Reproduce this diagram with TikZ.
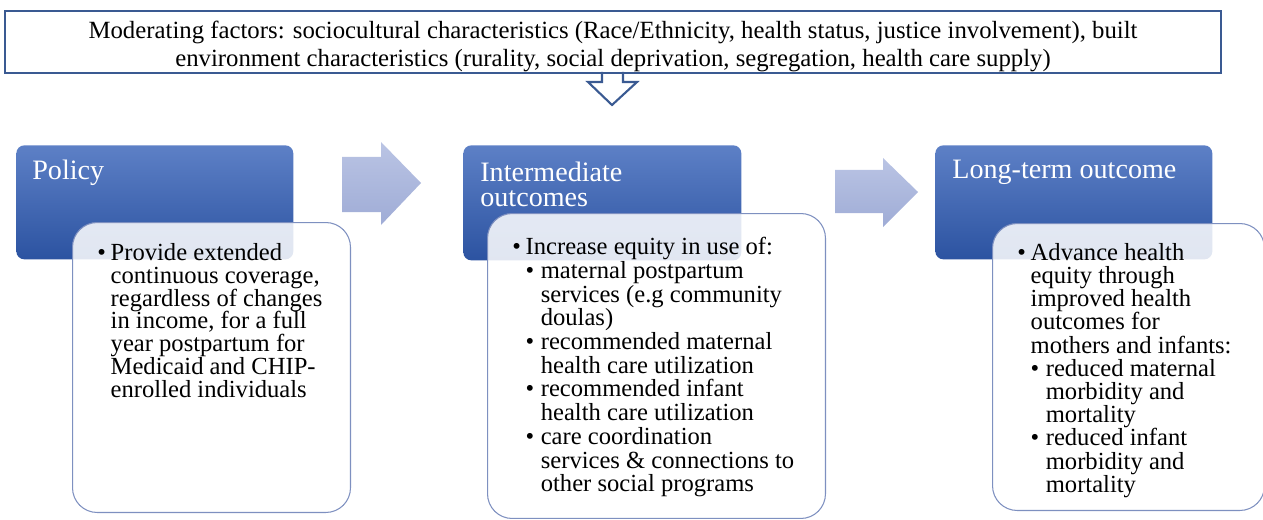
\documentclass[tikz,border=0pt]{standalone}
\usepackage{fontspec}
\setmainfont{Liberation Serif}
\definecolor{headtop}{HTML}{5D80C6}
\definecolor{headbot}{HTML}{2C53A1}
\definecolor{arrtop}{HTML}{BAC4E4}
\definecolor{arrbot}{HTML}{9FACD6}
\definecolor{modline}{HTML}{3A5A92}
\definecolor{bodyline}{HTML}{7E90C0}
\newcommand\bl{\makebox[7.6pt][l]{\textbullet}}
\newcommand\sbl{\hspace*{7.6pt}\makebox[8.6pt][l]{\textbullet}}
\newcommand\ind{\hspace*{7.6pt}}
\newcommand\sind{\hspace*{16.2pt}}
\begin{document}
\begin{tikzpicture}[x=0.02cm,y=-0.02cm,
    head/.style={rounded corners=4.5pt,top color=headtop,bottom color=headbot,anchor=north west,inner sep=0pt},
    body/.style={rounded corners=14pt,fill=white,fill opacity=0.86,draw=bodyline,line width=0.6pt,anchor=north west,inner sep=0pt},
    title/.style={text=white,font=\fontsize{16}{14.2}\selectfont,align=left,anchor=north west,inner sep=0pt},
    txt/.style={font=\fontsize{14}{13}\selectfont,align=left,anchor=north west,inner sep=0pt},
    blockarrow/.style={top color=arrtop,bottom color=arrbot}]
        \useasboundingbox (0,0) rectangle (1263,520);
        \node[draw=modline,line width=1.2pt,minimum width=24.32cm,minimum height=1.24cm,anchor=north west,inner sep=0pt](mod) at(4,10){};
        \node[font=\fontsize{14.1}{15.9}\selectfont,align=center](modtxt) at(613,46){Moderating factors: sociocultural characteristics (Race/Ethnicity, health status, justice involvement), built\\environment characteristics (rurality, social deprivation, segregation, health care supply)};
        \draw[modline,line width=1.2pt,line join=miter](602,72)--(602,82)--(588,82)--(612,105)--(637,82)--(623,82)--(623,72);
        \node[head,minimum width=5.54cm,minimum height=2.28cm](policy) at(16,145){};
        \node[head,minimum width=5.56cm,minimum height=2.3cm](inter) at(463,145){};
        \node[head,minimum width=5.54cm,minimum height=2.28cm](longterm) at(935,145){};
        \node[title](policyt) at(32,160){Policy};
        \node[title](intert) at(480,162){Intermediate\\outcomes};
        \node[title](longtermt) at(952,160){Long-term outcome};
        \shade[blockarrow](342,157)--(381,157)--(381,142)--(421,183)--(381,225)--(381,212)--(342,212)--cycle;
        \shade[blockarrow](835,170)--(883,170)--(883,158)--(918,192)--(883,227)--(883,213)--(835,213)--cycle;
        \node[body,minimum width=5.56cm,minimum height=5.8cm](policyb) at(72,222){};
        \node[body,minimum width=6.76cm,minimum height=6.1cm](interb) at(487,213){};
        \node[body,minimum width=5.44cm,minimum height=5.74cm](longtermb) at(992,223){};
        \node[txt](policyx) at(97,243){\bl Provide extended\\\ind continuous coverage,\\\ind regardless of changes\\\ind in income, for a full\\\ind year postpartum for\\\ind Medicaid and CHIP-\\\ind enrolled individuals};
        \node[txt,font=\fontsize{14}{13.5}\selectfont](interx) at(512,237){\bl Increase equity in use of:\\\sbl maternal postpartum\\\sind services (e.g community\\\sind doulas)\\\sbl recommended maternal\\\sind health care utilization\\\sbl recommended infant\\\sind health care utilization\\\sbl care coordination\\\sind services \& connections to\\\sind other social programs};
        \node[txt,font=\fontsize{14}{13.2}\selectfont](longtermx) at(1017,243){\bl Advance health\\\ind equity through\\\ind improved health\\\ind outcomes for\\\ind mothers and infants:\\\sbl reduced maternal\\\sind morbidity and\\\sind mortality\\\sbl reduced infant\\\sind morbidity and\\\sind mortality};
      \end{tikzpicture}
\end{document}
